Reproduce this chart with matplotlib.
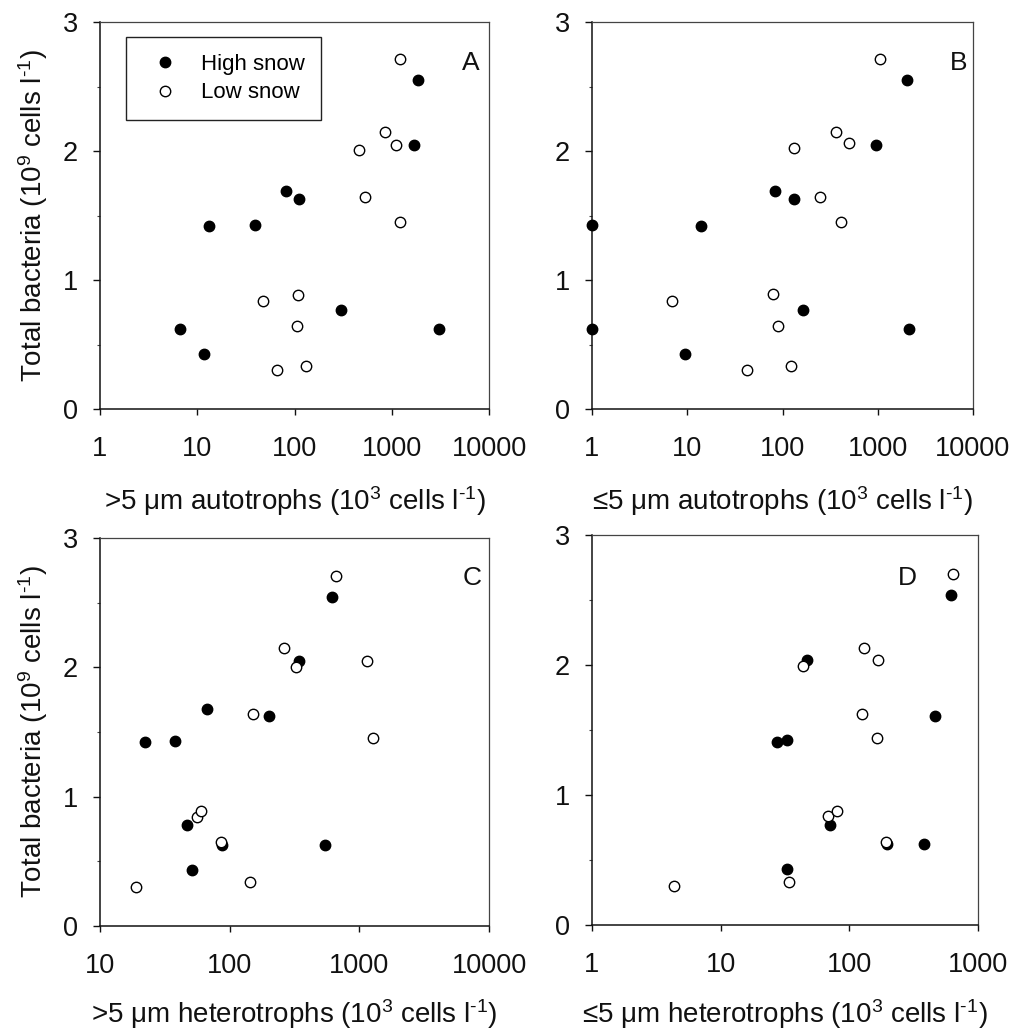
import matplotlib
matplotlib.use('Agg')
import matplotlib.pyplot as plt
from matplotlib.ticker import FixedLocator, FixedFormatter, MultipleLocator, NullLocator

plt.rcParams['font.family'] = ['Liberation Sans', 'DejaVu Sans']
plt.rcParams['mathtext.fontset'] = 'custom'
plt.rcParams['mathtext.rm'] = 'Liberation Sans'
plt.rcParams['mathtext.it'] = 'Liberation Sans:italic'
plt.rcParams['mathtext.bf'] = 'Liberation Sans:bold'

# ---------------- data ----------------
# Panel A: >5 um autotrophs
a_high_x = [6.7, 11.6, 13.3, 39, 81.5, 112, 301, 1695, 1850, 3090]
a_high_y = [0.62, 0.43, 1.42, 1.43, 1.69, 1.63, 0.77, 2.05, 2.55, 0.62]
a_low_x = [1218, 848, 1117, 465, 536, 1218, 47.6, 108, 106, 66.4, 131]
a_low_y = [2.71, 2.15, 2.05, 2.01, 1.64, 1.45, 0.84, 0.88, 0.64, 0.30, 0.33]

# Panel B: <=5 um autotrophs
b_high_x = [1, 1, 9.4, 13.9, 84, 131, 165, 953, 2036, 2138]
b_high_y = [1.43, 0.62, 0.43, 1.42, 1.69, 1.63, 0.77, 2.05, 2.55, 0.62]
b_low_x = [1067, 365, 500, 131, 248, 412, 6.9, 80, 89.6, 42.3, 123]
b_low_y = [2.71, 2.15, 2.06, 2.02, 1.64, 1.45, 0.84, 0.89, 0.64, 0.30, 0.33]

# Panel C: >5 um heterotrophs
c_high_x = [22.4, 38.1, 67.4, 200, 341, 617, 46.7, 51.3, 87.4, 548]
c_high_y = [1.42, 1.43, 1.68, 1.62, 2.05, 2.54, 0.78, 0.43, 0.63, 0.63]
c_low_x = [663, 262, 326, 1150, 152, 1265, 56.4, 59.8, 86.4, 19.1, 144.6]
c_low_y = [2.71, 2.15, 2.00, 2.05, 1.64, 1.45, 0.84, 0.89, 0.65, 0.30, 0.34]

# Panel D: <=5 um heterotrophs
d_high_x = [27.6, 32.6, 47.2, 613, 466, 70.8, 32.6, 195, 380]
d_high_y = [1.41, 1.42, 2.04, 2.54, 1.61, 0.77, 0.43, 0.62, 0.62]
d_low_x = [635, 131, 167, 43.9, 125, 165, 68.3, 79.7, 193, 4.31, 33.8]
d_low_y = [2.70, 2.13, 2.04, 1.99, 1.62, 1.44, 0.84, 0.88, 0.64, 0.30, 0.33]

xticks_A = [1, 10, 100, 1000, 10000]
xticks_B = [1, 10, 100, 1000, 10000]
xticks_C = [10, 100, 1000, 10000]
xticks_D = [1, 10, 100, 1000]
yticks = [0, 1, 2, 3]
series_labels = ['High snow', 'Low snow']

unit = r' cells l$^{\text{-1}}$)'
ylab = r'Total bacteria (10$^{9}$' + unit
xlabels = [r'>5 μm autotrophs (10$^{3}$' + unit,
           r'≤5 μm autotrophs (10$^{3}$' + unit,
           r'>5 μm heterotrophs (10$^{3}$' + unit,
           r'≤5 μm heterotrophs (10$^{3}$' + unit]
letters = ['A', 'B', 'C', 'D']

W, H = 1017, 1032
fig = plt.figure(figsize=(W / 100, H / 100), dpi=100)

def px_axes(l, t, r, b):
    return fig.add_axes([l / W, 1 - b / H, (r - l) / W, (b - t) / H])

axA = px_axes(100, 22, 489, 409)
axB = px_axes(592, 22, 973, 409)
axC = px_axes(100, 538, 489, 926)
axD = px_axes(592, 535, 978, 925)

panels = [
    (axA, a_high_x, a_high_y, a_low_x, a_low_y, xticks_A, (0.954, 0.893), -0.194),
    (axB, b_high_x, b_high_y, b_low_x, b_low_y, xticks_B, (0.962, 0.893), -0.194),
    (axC, c_high_x, c_high_y, c_low_x, c_low_y, xticks_C, (0.956, 0.898), -0.183),
    (axD, d_high_x, d_high_y, d_low_x, d_low_y, xticks_D, (0.817, 0.891), -0.185),
]

ms = 7.5
for i, (ax, hx, hy, lx, ly, xt, lpos, xly) in enumerate(panels):
    ax.set_xscale('log')
    ax.set_xlim(xt[0], xt[-1])
    ax.set_ylim(0, 3)
    ax.plot(hx, hy, linestyle='none', marker='o', markersize=ms,
            markerfacecolor='black', markeredgecolor='black',
            markeredgewidth=1, label=series_labels[0], clip_on=False, zorder=3)
    ax.plot(lx, ly, linestyle='none', marker='o', markersize=ms,
            markerfacecolor='white', markeredgecolor='black',
            markeredgewidth=1, label=series_labels[1], clip_on=False, zorder=4)
    ax.xaxis.set_major_locator(FixedLocator(xt))
    ax.xaxis.set_major_formatter(FixedFormatter([str(v) for v in xt]))
    ax.xaxis.set_minor_locator(NullLocator())
    ax.yaxis.set_major_locator(FixedLocator(yticks))
    ax.yaxis.set_major_formatter(FixedFormatter([str(v) for v in yticks]))
    ax.yaxis.set_minor_locator(MultipleLocator(0.5))
    ax.tick_params(axis='x', which='major', direction='out', length=4.5,
                   width=1, labelsize=19.5, pad=15, colors='#111111')
    ax.tick_params(axis='y', which='major', direction='out', length=5,
                   width=1, labelsize=19.5, pad=11, colors='#111111')
    ax.tick_params(axis='y', which='minor', direction='out', length=2.5,
                   width=0.8, colors='#444444')
    for s in ['left', 'bottom']:
        ax.spines[s].set_color('#111111')
        ax.spines[s].set_linewidth(1.1)
    for s in ['top', 'right']:
        ax.spines[s].set_color('#444444')
        ax.spines[s].set_linewidth(0.9)
    ax.set_xlabel(xlabels[i], fontsize=20, color='#111111')
    ax.xaxis.set_label_coords(0.5, xly)
    if i in (0, 2):
        ax.set_ylabel(ylab, fontsize=20, color='#111111')
        ax.yaxis.set_label_coords(-0.128, 0.5)
    ax.text(lpos[0], lpos[1], letters[i], transform=ax.transAxes,
            ha='center', va='center', fontsize=19, color='#111111')

leg = axA.legend(loc='upper left', bbox_to_anchor=(0.067, 0.961),
                 borderaxespad=0, fontsize=16, frameon=True, fancybox=False,
                 framealpha=1, edgecolor='#222222', handlelength=2.0,
                 handletextpad=0.6, borderpad=0.75, labelspacing=0.34)
leg.get_frame().set_linewidth(1)

fig.savefig('out.png', dpi=100)
